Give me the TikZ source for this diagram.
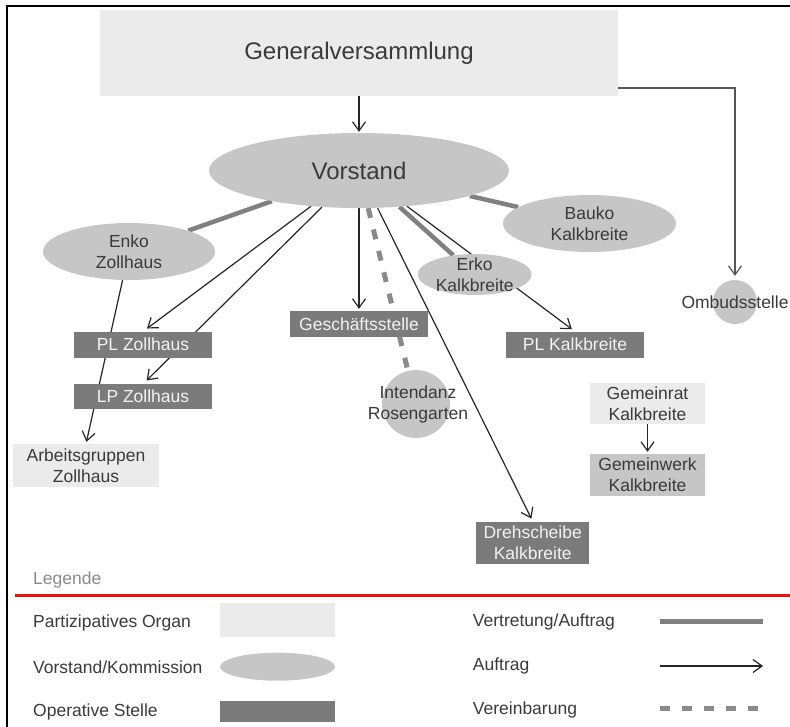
\documentclass[tikz,border=0pt]{standalone}
\usepackage{fontspec}
\setmainfont{Liberation Sans}
\usetikzlibrary{shapes.geometric,arrows.meta,calc}
\definecolor{lightfill}{HTML}{EBEBEB}
\definecolor{midfill}{HTML}{C6C6C6}
\definecolor{darkfill}{HTML}{7B7B7B}
\definecolor{txt}{HTML}{3A3A3A}
\definecolor{thickgray}{HTML}{808080}
\definecolor{dashgray}{HTML}{8A8A8A}
\definecolor{lineblack}{HTML}{262626}
\definecolor{ombline}{HTML}{555555}
\definecolor{legred}{HTML}{F01010}
\pgfdeclarelayer{bg}
\pgfsetlayers{bg,main}
\tikzset{
  bigtext/.style={font=\fontsize{24}{28}\selectfont, text=txt},
  lbl/.style={font=\fontsize{17.5}{21}\selectfont, text=txt, align=center},
  partbox/.style={rectangle, fill=lightfill, inner sep=0pt, lbl},
  opbox/.style={rectangle, fill=darkfill, inner sep=0pt, lbl, text=white!95!black},
  midbox/.style={rectangle, fill=midfill, inner sep=0pt, lbl},
  comm/.style={ellipse, fill=midfill, inner sep=0pt},
  circ/.style={circle, fill=midfill, inner sep=0pt},
  legtext/.style={lbl, anchor=west, inner sep=0pt, align=left},
  auftrag/.style={draw=lineblack, line width=1.2pt, -{Straight Barb[length=9pt,width=13pt,line width=1.2pt]}},
  vertretung/.style={draw=thickgray, line width=4.5pt},
  vereinbarung/.style={draw=dashgray, line width=5pt, dash pattern=on 10pt off 12pt},
}
\begin{document}
\begin{tikzpicture}[x=1pt,y=-1pt]
\useasboundingbox (0,0) rectangle (790,726);
% frame
\draw[line width=2pt] (7.3,727) -- (7.3,6) -- (791,6);

% nodes
\node[partbox, minimum width=518, minimum height=86, bigtext] (gv) at (359,53) {Generalversammlung};
\node[comm, minimum width=300, minimum height=75, bigtext] (vor) at (359,170.5) {Vorstand};
\node[comm, minimum width=172, minimum height=57, label={[lbl]center:{Enko\\Zollhaus}}] (enkoZ) at (129,251.5) {};
\node[comm, minimum width=173, minimum height=57, label={[lbl]center:{Bauko\\Kalkbreite}}] (bauko) at (589.5,223.5) {};
\node[comm, minimum width=114, minimum height=41, label={[lbl]center:{Erko\\Kalkbreite}}] (erkoK) at (474.7,274.5) {};
\node[circ, minimum size=44, label={[lbl]center:{Ombudsstelle}}] (omb) at (735,302) {};
\node[circ, minimum size=68] (intend) at (416,404) {};
\node[lbl] (intendT) at (418,404) {Intendanz\\Rosengarten};
\node[opbox, minimum width=138, minimum height=26] (gs) at (359,324) {Geschäftsstelle};
\node[opbox, minimum width=138, minimum height=26] (plz) at (143,344.7) {PL Zollhaus};
\node[opbox, minimum width=138, minimum height=25] (lpz) at (143,396.7) {LP Zollhaus};
\node[partbox, minimum width=146, minimum height=43] (ag) at (86,465.5) {Arbeitsgruppen\\Zollhaus};
\node[opbox, minimum width=138, minimum height=26] (plk) at (575,344.7) {PL Kalkbreite};
\node[opbox, minimum width=113, minimum height=42] (dreh) at (532.7,542.5) {Drehscheibe\\Kalkbreite};
\node[partbox, minimum width=115, minimum height=41] (gr) at (647.5,403.3) {Gemeinrat\\Kalkbreite};
\node[midbox, minimum width=115, minimum height=42] (gw) at (647.5,475) {Gemeinwerk\\Kalkbreite};

% connectors (behind nodes)
\begin{pgfonlayer}{bg}
\draw[auftrag, shorten >=1pt] (gv) -- (vor);
\draw[auftrag, draw=ombline, line width=2pt, shorten >=4pt] ($(gv.south east)+(0,-8)$) -| (omb);
\draw[vertretung] (vor) -- (enkoZ);
\draw[vertretung] (vor) -- (bauko);
\draw[vertretung] (vor) -- (erkoK);
\draw[auftrag, shorten >=5pt] (vor) -- (plz.north);
\draw[auftrag, shorten >=5pt] (vor) -- (lpz.north);
\draw[auftrag, shorten >=2pt] (vor) -- (gs);
\draw[vereinbarung] (vor) -- (intend);
\draw[auftrag, shorten >=3pt] (vor) -- (dreh.north);
\draw[auftrag, shorten >=4pt] (vor) -- (plk.north);
\draw[auftrag, shorten >=2pt] (enkoZ) -- (ag.north);
\draw[auftrag, shorten >=2pt] (gr) -- (gw);
\end{pgfonlayer}

% legend
\node[legtext, text=dashgray] (legtitle) at (33,580) {Legende};
\coordinate (redA) at (15,595);
\coordinate (redB) at (791,595);
\draw[legred, line width=3pt] (redA) -- (redB);

\node[legtext] (lt1) at (33,623) {Partizipatives Organ};
\node[legtext] (lt2) at (33,667) {Vorstand/Kommission};
\node[legtext] (lt3) at (33,712) {Operative Stelle};
\node[partbox, minimum width=115, minimum height=34] (ls1) at (277.5,620.3) {};
\node[comm, minimum width=115, minimum height=28] (ls2) at (277.5,666.7) {};
\node[opbox, minimum width=115, minimum height=21] (ls3) at (277.5,711.2) {};

\node[legtext] (rt1) at (472.7,622) {Vertretung/Auftrag};
\node[legtext] (rt2) at (472.7,666) {Auftrag};
\node[legtext] (rt3) at (472.7,710) {Vereinbarung};
\coordinate (v1a) at (660,621.7); \coordinate (v1b) at (763,621.7);
\coordinate (v2a) at (660,666); \coordinate (v2b) at (763,666);
\coordinate (v3a) at (660,708.3); \coordinate (v3b) at (765,708.3);
\draw[vertretung] (v1a) -- (v1b);
\draw[auftrag] (v2a) -- (v2b);
\draw[vereinbarung] (v3a) -- (v3b);
\end{tikzpicture}
\end{document}
